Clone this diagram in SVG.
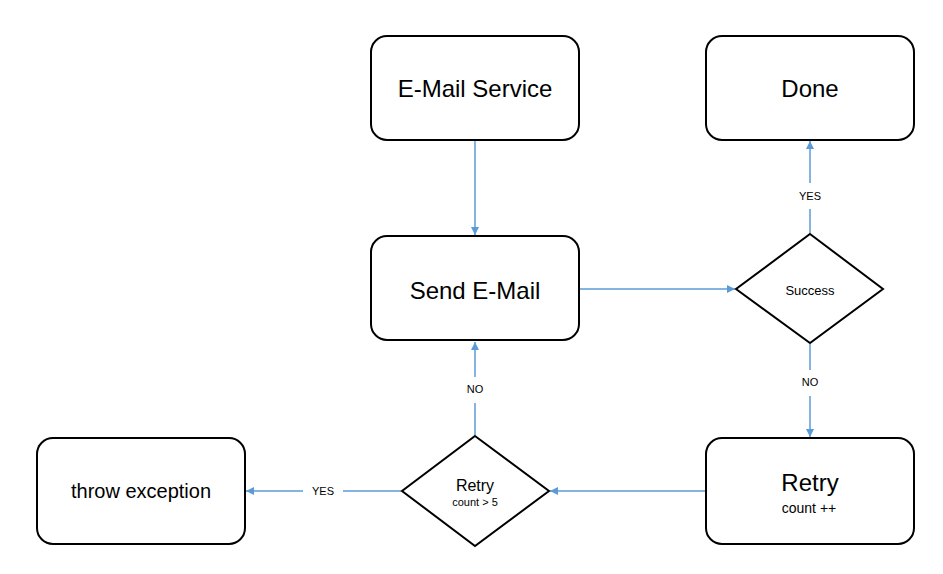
<svg xmlns="http://www.w3.org/2000/svg" width="943" height="574" viewBox="0 0 943 574">
<style>
  .box{fill:#fff;stroke:#000;stroke-width:2}
  .t{font-family:"Liberation Sans","Open Sans",sans-serif;fill:#000;text-anchor:middle}
  .c{fill:none;stroke:#5B9BD5;stroke-width:1.5}
  .lbl{font-family:"Liberation Sans","Open Sans",sans-serif;font-size:11px;fill:#000;text-anchor:middle}
</style>
<defs>
  <marker id="ah" viewBox="0 0 10 10" refX="10" refY="5" markerWidth="8" markerHeight="8" markerUnits="userSpaceOnUse" orient="auto">
    <path d="M0,0 L10,5 L0,10 z" fill="#5B9BD5"/>
  </marker>
</defs>
<rect width="943" height="574" fill="#fff"/>
<g id="connectors">
  <line class="c" x1="475" y1="141" x2="475" y2="235" marker-end="url(#ah)"/>
  <line class="c" x1="580" y1="289" x2="735" y2="289" marker-end="url(#ah)"/>
  <line class="c" x1="810" y1="233" x2="810" y2="141" marker-end="url(#ah)"/>
  <line class="c" x1="810" y1="344" x2="810" y2="437" marker-end="url(#ah)"/>
  <line class="c" x1="705" y1="491" x2="550" y2="491" marker-end="url(#ah)"/>
  <line class="c" x1="475" y1="435" x2="475" y2="342" marker-end="url(#ah)"/>
  <line class="c" x1="401" y1="491" x2="246" y2="491" marker-end="url(#ah)"/>
  <rect x="796" y="183" width="28" height="26" fill="#fff"/>
  <text class="lbl" x="810" y="200">YES</text>
  <rect x="796" y="370" width="28" height="26" fill="#fff"/>
  <text class="lbl" x="810" y="386">NO</text>
  <rect x="461" y="377" width="28" height="26" fill="#fff"/>
  <text class="lbl" x="475" y="393">NO</text>
  <rect x="303" y="484" width="40" height="14" fill="#fff"/>
  <text class="lbl" x="323" y="495">YES</text>
</g>
<g id="email-service">
  <rect class="box" x="371" y="36" width="208" height="104" rx="16"/>
  <text class="t" x="475" y="97" font-size="24">E-Mail Service</text>
</g>
<g id="done">
  <rect class="box" x="706" y="36" width="208" height="104" rx="16"/>
  <text class="t" x="810" y="97" font-size="24">Done</text>
</g>
<g id="send-email">
  <rect class="box" x="371" y="236" width="208" height="104" rx="16"/>
  <text class="t" x="475" y="299" font-size="24">Send E-Mail</text>
</g>
<g id="success">
  <polygon class="box" points="810,234 883,289 810,343 736,289"/>
  <text class="t" x="810" y="295" font-size="13">Success</text>
</g>
<g id="retry">
  <rect class="box" x="706" y="438" width="208" height="106" rx="16"/>
  <text class="t" x="810" y="491" font-size="24">Retry</text>
  <text class="t" x="809" y="513" font-size="14">count ++</text>
</g>
<g id="retry-check">
  <polygon class="box" points="475,436 549,491 475,546 402,491"/>
  <text class="t" x="475" y="491" font-size="16">Retry</text>
  <text class="t" x="475" y="506" font-size="11">count &gt; 5</text>
</g>
<g id="throw-exception">
  <rect class="box" x="37" y="438" width="208" height="106" rx="16"/>
  <text class="t" x="141" y="498" font-size="20">throw exception</text>
</g>
</svg>
